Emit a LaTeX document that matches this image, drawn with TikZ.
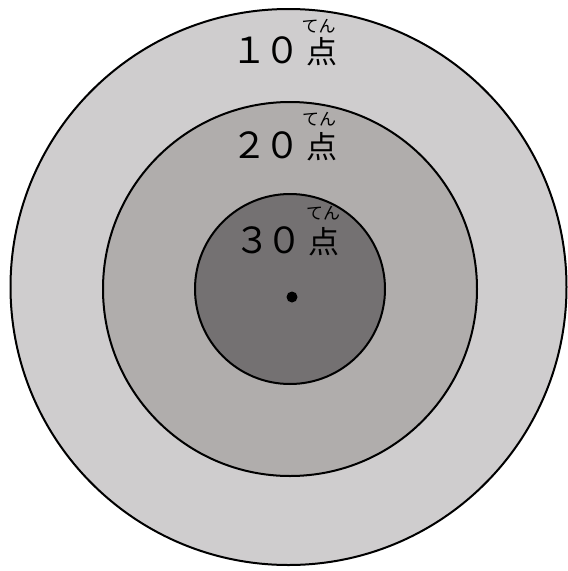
\documentclass[tikz,border=0pt]{standalone}
\usepackage{fontspec}
\newfontfamily\jp{Noto Sans CJK JP}
\definecolor{ringA}{RGB}{207,205,206}
\definecolor{ringB}{RGB}{176,173,172}
\definecolor{ringC}{RGB}{116,113,114}
\newcommand{\dg}[1]{{\fontsize{36}{36}\selectfont #1}}
\tikzset{
  ring/.style={draw=black, line width=2pt},
  score/.style={font=\jp\fontsize{31}{31}\selectfont, inner sep=0pt, anchor=center},
  ruby/.style={font=\jp\fontsize{17}{17}\selectfont, inner sep=0pt, anchor=center}
}
\begin{document}
\begin{tikzpicture}[x=1pt,y=-1pt]
\useasboundingbox (0,0) rectangle (568,571);
\fill[white] (0,0) rectangle (568,571);
\draw[ring, fill=ringA] (288.5,287) circle[radius=278];
\draw[ring, fill=ringB] (290,289) circle[radius=187];
\draw[ring, fill=ringC] (290,289) circle[radius=95];
\node[circle, fill=black, inner sep=0pt, minimum size=11pt] (dot) at (292,297) {};
\node[score] (s10) at (284.5,51) {\dg{１\kern-3.5pt０}\kern6pt点};
\node[score] (s20) at (284.5,146) {\dg{２\kern-3.5pt０}\kern6pt点};
\node[score] (s30) at (287,241) {\dg{３\kern-3.5pt０}\kern6pt点};
\node[ruby] (r10) at (318.5,26) {てん};
\node[ruby] (r20) at (319,119) {てん};
\node[ruby] (r30) at (323,213.5) {てん};
\end{tikzpicture}
\end{document}
